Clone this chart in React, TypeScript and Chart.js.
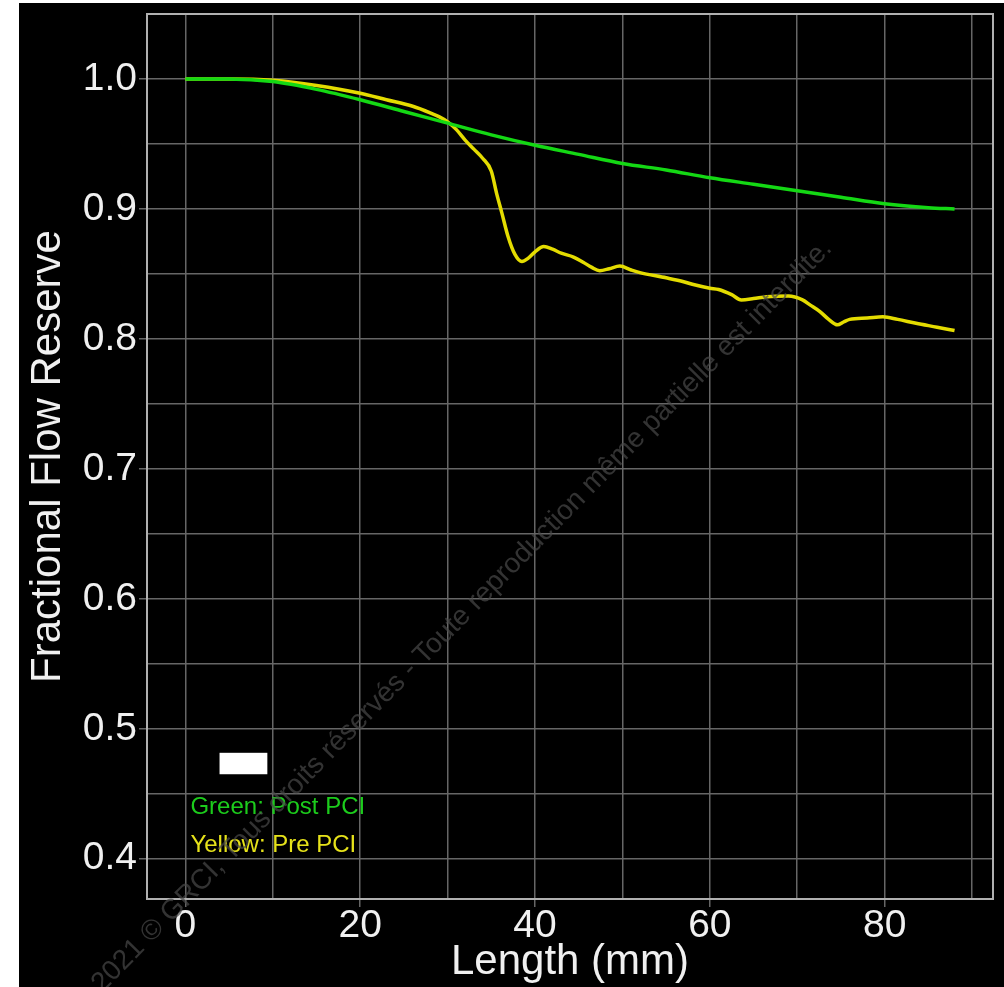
import React, { useEffect, useRef } from "react";
import { Chart, registerables } from "chart.js";

Chart.register(...registerables);

// ---- Data ----
const postX = [0, 5, 10, 15, 20, 25, 30, 35, 40, 45, 50, 55, 60, 65, 70, 75, 80, 85, 88];
const postY = [1.0, 1.0, 0.998, 0.992, 0.984, 0.975, 0.966, 0.957, 0.949, 0.942, 0.935, 0.93, 0.924, 0.919, 0.914, 0.909, 0.904, 0.901, 0.9];

const preX = [0, 5, 10, 15, 20, 23, 26, 28, 29, 30, 31, 32, 33, 34, 35, 35.6, 36.2, 36.9, 37.7, 38.5, 39.2, 40, 41, 42, 43, 44.4, 45.5, 46.5, 47.4, 48.5, 49.7, 51, 52, 55, 57, 58, 60, 61, 62.5, 63.6, 65, 66.5, 69, 70.6, 71.5, 72.6, 73.6, 74.6, 75.3, 76, 78, 79.8, 81.5, 83.6, 86, 88];
const preY = [1.0, 1.0, 0.999, 0.995, 0.989, 0.984, 0.979, 0.974, 0.971, 0.967, 0.961, 0.953, 0.946, 0.939, 0.929, 0.912, 0.897, 0.879, 0.865, 0.8595, 0.862, 0.867, 0.871, 0.869, 0.866, 0.863, 0.859, 0.855, 0.8525, 0.854, 0.856, 0.853, 0.851, 0.847, 0.844, 0.842, 0.839, 0.838, 0.834, 0.83, 0.831, 0.8325, 0.833, 0.83, 0.826, 0.821, 0.815, 0.8108, 0.813, 0.815, 0.816, 0.817, 0.815, 0.812, 0.809, 0.8064];

const xGridValues = [0, 10, 20, 30, 40, 50, 60, 70, 80, 90];
const xLabelValues = [0, 20, 40, 60, 80];
const yGridValues = [0.4, 0.45, 0.5, 0.55, 0.6, 0.65, 0.7, 0.75, 0.8, 0.85, 0.9, 0.95, 1.0];
const yLabelValues = [0.4, 0.5, 0.6, 0.7, 0.8, 0.9, 1.0];

const legendLines = ["Green: Post PCI", "Yellow: Pre PCI"];
const watermarkText = "2021 © GRCI, Tous droits réservés - Toute reproduction même partielle est interdite.";

const FONT = "'Liberation Sans', Arial, sans-serif";
const GRID = "#666666";
const TEXT = "#f0f0f0";
const GREEN = "#14d814";
const YELLOW = "#e4dc00";

const isIn = (v: number, arr: number[]) => arr.some((a) => Math.abs(a - v) < 1e-6);

const bgPlugin = {
  id: "bg",
  beforeDraw(chart: any) {
    const { ctx, width, height } = chart;
    ctx.save();
    ctx.fillStyle = "#ffffff";
    ctx.fillRect(0, 0, width, height);
    ctx.fillStyle = "#000000";
    ctx.fillRect(19, 3, width - 19, height - 3);
    ctx.restore();
  },
  beforeDatasetsDraw(chart: any) {
    const { ctx, chartArea } = chart;
    ctx.save();
    ctx.strokeStyle = "#b0b0b0";
    ctx.lineWidth = 2;
    ctx.strokeRect(chartArea.left, chartArea.top, chartArea.right - chartArea.left, chartArea.bottom - chartArea.top);
    ctx.restore();
  },
  afterDatasetsDraw(chart: any) {
    const { ctx } = chart;
    const xs = chart.scales.x;
    const ys = chart.scales.y;
    ctx.save();
    // redaction box
    const rx0 = xs.getPixelForValue(3.9);
    const rx1 = xs.getPixelForValue(9.37);
    const ry0 = ys.getPixelForValue(0.4815);
    const ry1 = ys.getPixelForValue(0.465);
    ctx.fillStyle = "#ffffff";
    ctx.fillRect(rx0, ry0, rx1 - rx0, ry1 - ry0);
    // legend texts
    ctx.font = `24px ${FONT}`;
    ctx.textAlign = "left";
    ctx.textBaseline = "middle";
    ctx.fillStyle = "#1ccc1c";
    ctx.fillText(legendLines[0], xs.getPixelForValue(0.57), ys.getPixelForValue(0.4392));
    ctx.fillStyle = "#e6e21a";
    ctx.fillText(legendLines[1], xs.getPixelForValue(0.57), ys.getPixelForValue(0.41));
    ctx.restore();
  },
  afterDraw(chart: any) {
    const { ctx } = chart;
    ctx.save();
    ctx.translate(462, 616);
    ctx.rotate((-45.5 * Math.PI) / 180);
    ctx.font = `28px ${FONT}`;
    ctx.textAlign = "center";
    ctx.textBaseline = "middle";
    ctx.fillStyle = "rgba(72,72,72,0.7)";
    ctx.fillText(watermarkText, 0, 0);
    ctx.restore();
  },
};

export default function App() {
  const ref = useRef<HTMLCanvasElement | null>(null);
  useEffect(() => {
    if (!ref.current) return;
    const chart = new Chart(ref.current, {
      type: "line",
      data: {
        datasets: [
          {
            label: "Post PCI",
            data: postX.map((x, i) => ({ x, y: postY[i] })),
            borderColor: GREEN,
            borderWidth: 3.5,
            pointRadius: 0,
            cubicInterpolationMode: "monotone",
            fill: false,
          },
          {
            label: "Pre PCI",
            data: preX.map((x, i) => ({ x, y: preY[i] })),
            borderColor: YELLOW,
            borderWidth: 3.5,
            pointRadius: 0,
            cubicInterpolationMode: "monotone",
            fill: false,
          },
        ],
      },
      options: {
        responsive: false,
        animation: false,
        layout: { padding: { left: 0, top: 14, right: 11, bottom: 0 } },
        plugins: { legend: { display: false }, tooltip: { enabled: false } },
        scales: {
          x: {
            type: "linear",
            min: -4.4,
            max: 92.4,
            afterBuildTicks: (s: any) => {
              s.ticks = xGridValues.map((v) => ({ value: v }));
            },
            afterFit: (s: any) => {
              s.height = 88;
              s.paddingLeft = 0;
              s.paddingRight = 0;
            },
            ticks: {
              autoSkip: false,
              maxRotation: 0,
              color: TEXT,
              padding: 0,
              font: { family: FONT, size: 39, lineHeight: 1 },
              callback: (v: any) => (isIn(Number(v), xLabelValues) ? String(v) : ""),
            },
            grid: {
              color: GRID,
              lineWidth: 1.5,
              tickLength: 8,
              tickColor: (c: any) => (c.tick && isIn(c.tick.value, xLabelValues) ? GRID : "rgba(0,0,0,0)"),
            },
            border: { display: false },
            title: {
              display: true,
              text: "Length (mm)",
              color: TEXT,
              font: { family: FONT, size: 42 },
              padding: { top: 0, bottom: -1 },
            },
          },
          y: {
            type: "linear",
            min: 0.369,
            max: 1.05,
            afterBuildTicks: (s: any) => {
              s.ticks = yGridValues.map((v) => ({ value: v }));
            },
            afterFit: (s: any) => {
              s.width = 147;
              s.paddingTop = 0;
              s.paddingBottom = 0;
            },
            ticks: {
              autoSkip: false,
              color: TEXT,
              padding: 2,
              font: { family: FONT, size: 39, lineHeight: 1 },
              callback: (v: any) => (isIn(Number(v), yLabelValues) ? Number(v).toFixed(1) : ""),
            },
            grid: {
              color: GRID,
              lineWidth: 1.5,
              tickLength: 8,
              tickColor: (c: any) => (c.tick && isIn(c.tick.value, yLabelValues) ? GRID : "rgba(0,0,0,0)"),
            },
            border: { display: false },
            title: {
              display: true,
              text: "Fractional Flow Reserve",
              color: TEXT,
              font: { family: FONT, size: 42 },
              padding: { top: 23, bottom: 0 },
            },
          },
        },
      },
      plugins: [bgPlugin],
    } as any);
    return () => chart.destroy();
  }, []);
  return (
    <div style={{ position: "fixed", left: 0, top: 0, width: 1004, height: 987 }}>
      <canvas ref={ref} width={1004} height={987} style={{ display: "block", width: 1004, height: 987 }} />
    </div>
  );
}
